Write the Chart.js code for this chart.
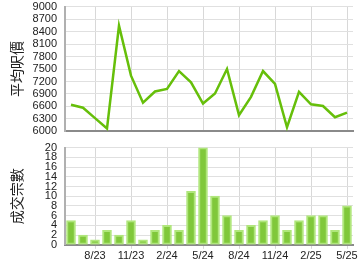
<!DOCTYPE html>
<html>
<head>
<meta charset="utf-8">
<script src="https://cdn.jsdelivr.net/npm/chart.js@4"></script>
<style>
  body { margin: 0; background: #fff; overflow: hidden; }
  .box { position: absolute; left: 0; width: 360px; }
</style>
</head>
<body>
<div class="box" style="top:-8px;height:154px"><canvas id="priceChart"></canvas></div>
<div class="box" style="top:133px;height:137px"><canvas id="dealsChart"></canvas></div>
<script>
const months = ["6/23","7/23","8/23","9/23","10/23","11/23","12/23","1/24","2/24","3/24","4/24","5/24",
  "6/24","7/24","8/24","9/24","10/24","11/24","12/24","1/25","2/25","3/25","4/25","5/25"];
const avgPrice = [6640,6570,6320,6070,8540,7340,6690,6960,7020,7450,7180,6670,
  6910,7500,6390,6830,7450,7140,6100,6950,6650,6610,6340,6450];
const deals = [5,2,1,3,2,5,1,3,4,3,11,20,10,6,3,4,5,6,3,5,6,6,3,8];

const tickFont = { family: "'Liberation Sans', Arial, sans-serif", size: 11 };
const titleFont = { family: "'Noto Sans CJK TC', sans-serif", size: 14 };
const gridOn = ctx => (ctx.index % 3 === 2 ? "#d8d8d8" : "rgba(0,0,0,0)");

// Average price line
new Chart(document.getElementById("priceChart"), {
  type: "line",
  data: {
    labels: months,
    datasets: [{ data: avgPrice, borderColor: "#66bf0a", borderWidth: 2.5, pointRadius: 0, tension: 0 }]
  },
  options: {
    responsive: true, maintainAspectRatio: false, animation: false,
    layout: { padding: { top: 2, right: 7, bottom: 10, left: 0 } },
    plugins: { legend: { display: false }, tooltip: { enabled: false } },
    scales: {
      x: {
        offset: true,
        grid: { color: gridOn, drawTicks: false, offset: false },
        border: { color: "#8a8a8a", width: 2 },
        ticks: { display: false }
      },
      y: {
        min: 6000, max: 9000,
        afterFit: a => { a.width = 65; },
        ticks: { stepSize: 300, autoSkip: false, color: "#222", font: tickFont, padding: 8,
          callback: v => String(v) },
        grid: { color: "#e0e0e0", drawTicks: false },
        border: { color: "#b0b0b0", width: 2 },
        title: { display: true, text: "平均呎價", color: "#222", font: titleFont, padding: { top: 8 } }
      }
    }
  }
});

// Number of deals bars
new Chart(document.getElementById("dealsChart"), {
  type: "bar",
  data: {
    labels: months,
    datasets: [{ data: deals, backgroundColor: "#80c83a", borderColor: "#b0e67c", borderWidth: 2,
      borderSkipped: false, barThickness: 9 }]
  },
  options: {
    responsive: true, maintainAspectRatio: false, animation: false,
    layout: { padding: { top: 2, right: 7, bottom: 6, left: 0 } },
    plugins: { legend: { display: false }, tooltip: { enabled: false } },
    scales: {
      x: {
        offset: true,
        grid: { color: gridOn, offset: false, tickLength: 4 },
        border: { color: "#8a8a8a", width: 2 },
        ticks: { color: "#222", font: tickFont, padding: 1, autoSkip: false, maxRotation: 0,
          callback: (v, i) => (i % 3 === 2 ? months[i] : "") }
      },
      y: {
        min: 0, max: 20,
        afterFit: a => { a.width = 65; },
        ticks: { stepSize: 2, autoSkip: false, color: "#222", font: tickFont, padding: 8 },
        grid: { color: "#e0e0e0", drawTicks: false },
        border: { color: "#b0b0b0", width: 2 },
        title: { display: true, text: "成交宗數", color: "#222", font: titleFont, padding: { top: 8 } }
      }
    }
  }
});
</script>
</body>
</html>
